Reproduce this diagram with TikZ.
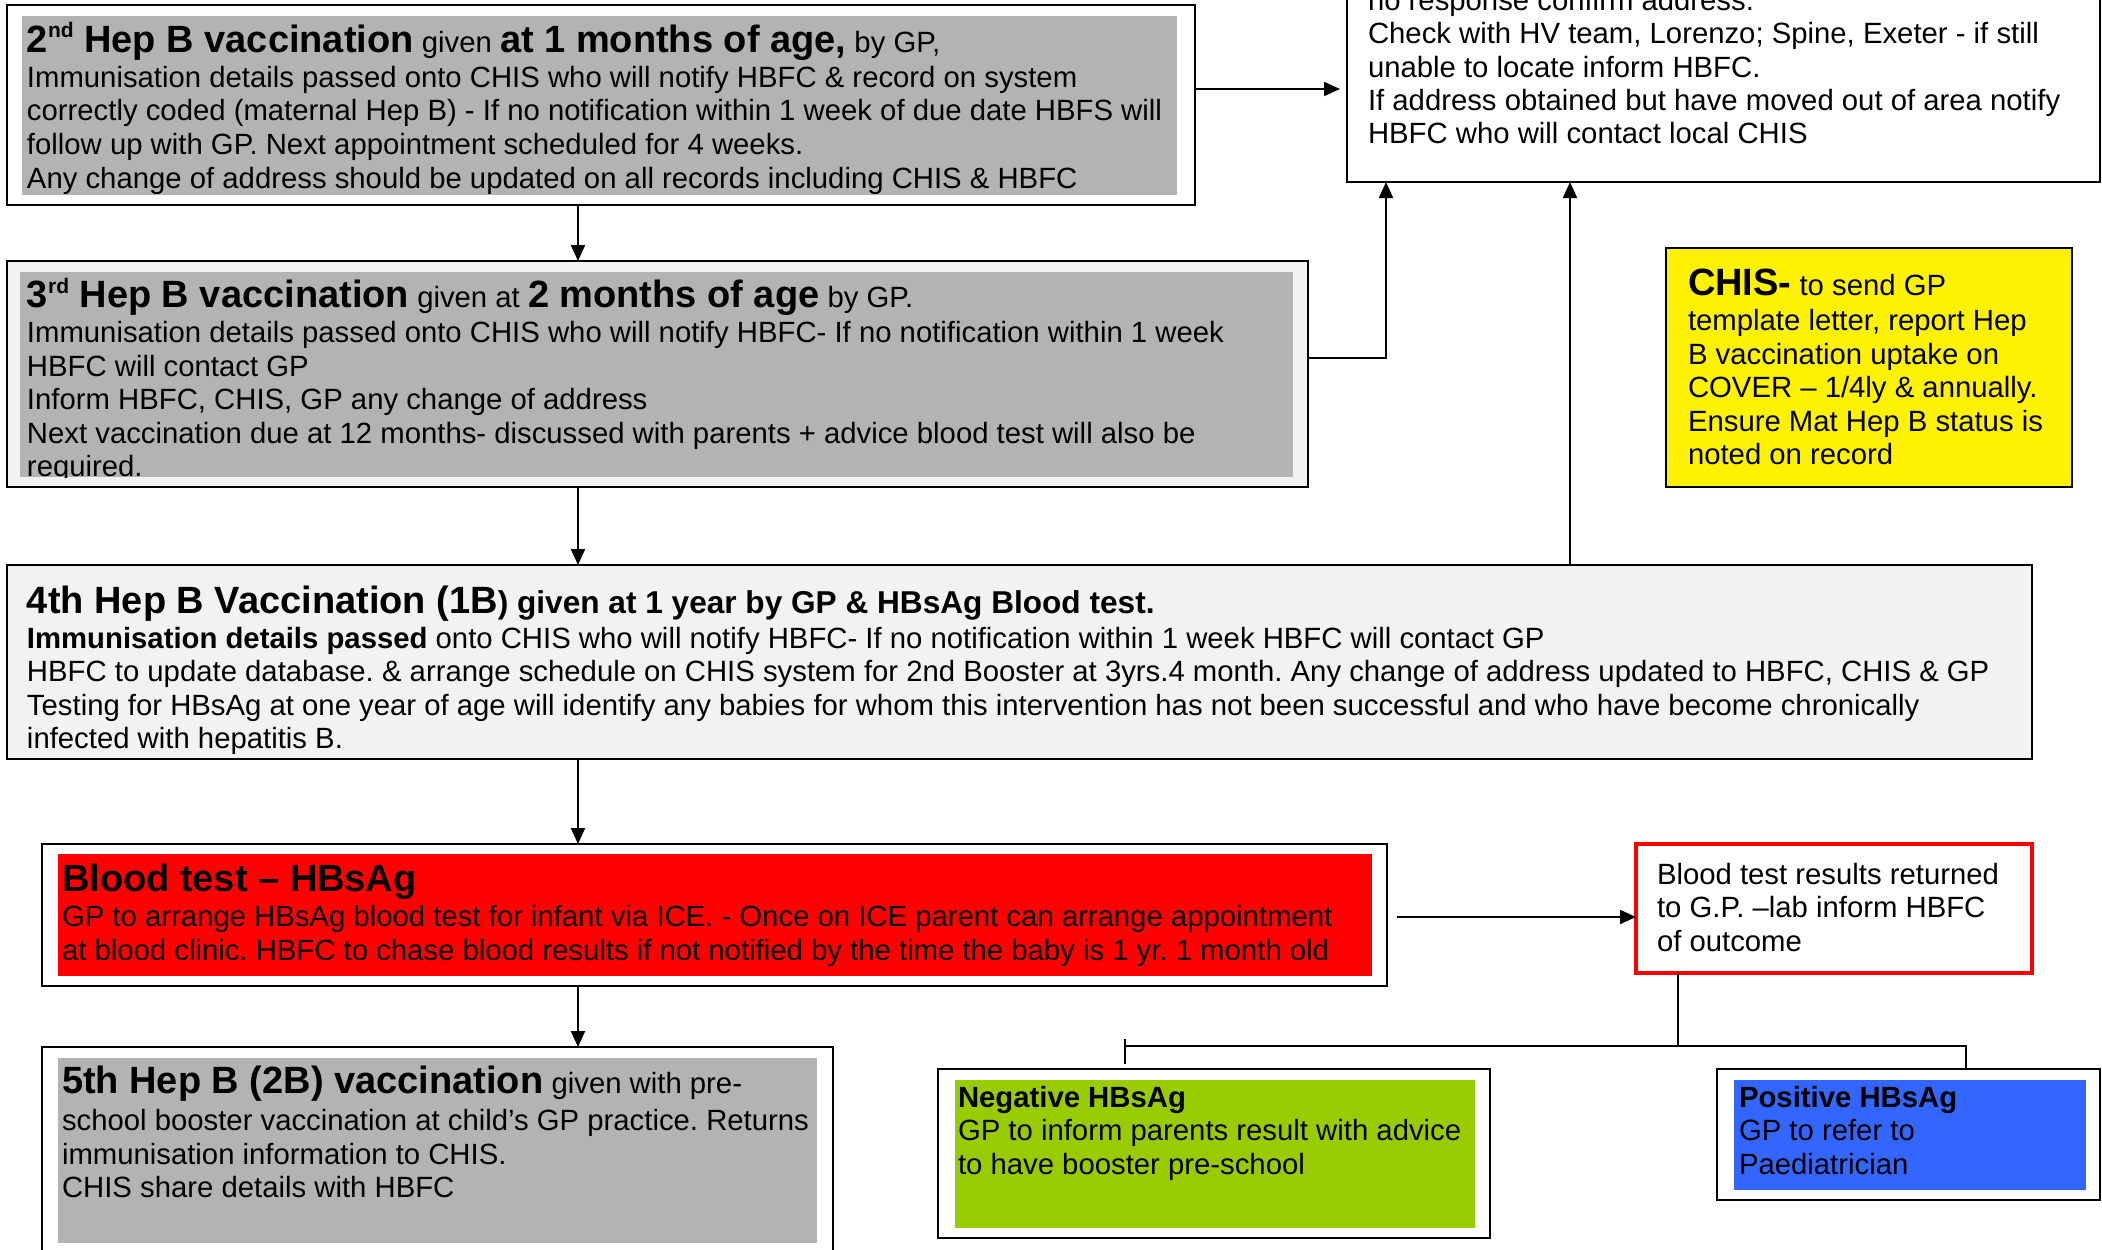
\documentclass[tikz,border=0pt]{standalone}
\usepackage{fontspec}
\setmainfont{Liberation Sans}
\usetikzlibrary{arrows.meta,calc}
\frenchspacing
\definecolor{gr}{HTML}{B3B3B3}
\definecolor{lg}{HTML}{F2F2F2}
\definecolor{grn}{HTML}{99CC00}
\definecolor{blu}{HTML}{3366FF}
\newcommand\bigb{\fontsize{38}{38}\selectfont\bfseries}
\newcommand\midb{\fontsize{31.6}{31.6}\selectfont\bfseries}
\newcommand\supx[1]{\raisebox{14pt}{\fontsize{21}{21}\selectfont\bfseries #1}}
\newcommand\Lines[1]{\begin{tabular}[t]{@{}l@{}}#1\end{tabular}}
\begin{document}
\begin{tikzpicture}[x=1pt,y=-1pt,
  box/.style={draw=black, line width=2.5pt, inner sep=0pt, outer sep=0pt, anchor=north west},
  panel/.style={inner sep=0pt, outer sep=0pt, anchor=north west, draw=none},
  txt/.style={anchor=base west, inner sep=0pt, outer sep=0pt, font=\fontsize{29.3}{33.5}\selectfont},
  arr/.style={line width=2pt, -{Triangle[width=14pt,length=16pt]}},
  ln/.style={line width=2pt}]
\useasboundingbox (0,0) rectangle (2102,1250);
\fill[white] (0,0) rectangle (2102,1250);

% ---- boxes ----
\node[box, fill=white, minimum width=1188pt, minimum height=200pt] (b1) at (7,5) {};
\node[panel, fill=gr, minimum width=1155pt, minimum height=179pt] (b1in) at (22,16) {};
\node[box, fill=white, minimum width=753pt, minimum height=222pt] (b2) at (1347,-40) {};
\node[box, fill=lg, minimum width=1301pt, minimum height=226pt] (b3) at (7,261) {};
\node[panel, fill=gr, minimum width=1273pt, minimum height=205pt] (b3in) at (20,272) {};
\node[box, fill=lg, minimum width=2025pt, minimum height=194pt] (b4) at (7,565) {};
\node[box, fill=yellow, line width=2pt, minimum width=406pt, minimum height=239pt] (ch) at (1666,248) {};
\node[box, fill=white, minimum width=1345pt, minimum height=142pt] (bt) at (42,844) {};
\node[panel, fill=red, minimum width=1314pt, minimum height=122pt] (btin) at (58,854) {};
\node[box, draw=red, line width=4pt, fill=white, minimum width=396pt, minimum height=129pt] (res) at (1636,844) {};
\node[box, fill=white, minimum width=552pt, minimum height=169pt] (neg) at (938,1069) {};
\node[panel, fill=grn, minimum width=520pt, minimum height=148pt] (negin) at (955,1080) {};
\node[box, fill=white, minimum width=383pt, minimum height=131pt] (pos) at (1717,1069) {};
\node[panel, fill=blu, minimum width=352pt, minimum height=110pt] (posin) at (1734,1080) {};
\node[box, fill=white, minimum width=791pt, minimum height=250pt] (b5) at (42,1047) {};
\node[panel, fill=gr, minimum width=759pt, minimum height=185pt] (b5in) at (58,1058) {};

% ---- texts ----
\node[txt] (t1) at (27,52) {\Lines{%
{\bigb 2\supx{nd} Hep B vaccination} given {\bigb at 1 months of age,} by GP,\\[2pt]
Immunisation details passed onto CHIS who will notify HBFC \& record on system\\
correctly coded (maternal Hep B) - If no notification within 1 week of due date HBFS will\\
follow up with GP. Next appointment scheduled for 4 weeks.\\
Any change of address should be updated on all records including CHIS \& HBFC}};

\node[txt] (t2) at (1368,10) {\Lines{%
no response confirm address.\\
Check with HV team, Lorenzo; Spine, Exeter - if still\\
unable to locate inform HBFC.\\
If address obtained but have moved out of area notify\\
HBFC who will contact local CHIS}};

\begin{scope}
\clip (20,272) rectangle (1293,477);
\node[txt] (t3) at (27,307) {\Lines{%
{\bigb 3\supx{rd} Hep B vaccination} given at {\bigb 2 months of age} by GP.\\[2pt]
Immunisation details passed onto CHIS who will notify HBFC- If no notification within 1 week\\
HBFC will contact GP\\
Inform HBFC, CHIS, GP any change of address\\
Next vaccination due at 12 months- discussed with parents + advice blood test will also be\\
required.}};
\end{scope}

\begin{scope}
\clip (8.5,566.5) rectangle (2030.5,757.5);
\node[txt] (t4) at (27,613) {\Lines{%
{\bigb 4th Hep B Vaccination (1B}{\midb) given at 1 year by GP \& HBsAg Blood test.}\\[1.5pt]
{\bfseries Immunisation details passed} onto CHIS who will notify HBFC- If no notification within 1 week HBFC will contact GP\\
HBFC to update database. \& arrange schedule on CHIS system for 2nd Booster at 3yrs.4 month. Any change of address updated to HBFC, CHIS \& GP\\
Testing for HBsAg at one year of age will identify any babies for whom this intervention has not been successful and who have become chronically\\
infected with hepatitis B.}};
\end{scope}

\node[txt] (t5) at (1688,295) {\Lines{%
{\bigb CHIS-} to send GP\\[2pt]
template letter, report Hep\\
B vaccination uptake on\\
COVER – 1/4ly \& annually.\\
Ensure Mat Hep B status is\\
noted on record}};

\node[txt] (t6) at (62,891) {\Lines{%
{\bigb Blood test – HBsAg}\\[2pt]
GP to arrange HBsAg blood test for infant via ICE. - Once on ICE parent can arrange appointment\\
at blood clinic. HBFC to chase blood results if not notified by the time the baby is 1 yr. 1 month old}};

\node[txt] (t7) at (1657,884) {\Lines{%
Blood test results returned\\
to G.P. –lab inform HBFC\\
of outcome}};

\node[txt] (t8) at (958,1107) {\Lines{%
{\bfseries Negative HBsAg}\\
GP to inform parents result with advice\\
to have booster pre-school}};

\node[txt] (t9) at (1739,1107) {\Lines{%
{\bfseries Positive HBsAg}\\
GP to refer to\\
Paediatrician}};

\node[txt] (t10) at (62,1093) {\Lines{%
{\bigb 5th Hep B (2B) vaccination} given with pre-\\[4pt]
school booster vaccination at child’s GP practice. Returns\\
immunisation information to CHIS.\\
CHIS share details with HBFC}};

% ---- connectors ----
\coordinate (trunk) at (578,0);
\coordinate (r1) at (1386,0);
\coordinate (r2) at (1570,0);
\coordinate (sp) at (1678,1046);
\coordinate (spl) at (1125,1046);
\coordinate (spr) at (1966,1046);

\draw[arr] (b1.south -| trunk) -- (b3.north -| trunk);
\draw[arr] (b3.south -| trunk) -- (b4.north -| trunk);
\draw[arr] (b4.south -| trunk) -- (bt.north -| trunk);
\draw[arr] (bt.south -| trunk) -- (b5.north -| trunk);

\draw[arr, shorten >=7pt] (b1.east |- 0,89) -- (b2.west |- 0,89);
\draw[arr] (b3.east |- 0,358) -| (b2.south -| r1);
\draw[arr] (b4.north -| r2) -- (b2.south -| r2);

\draw[arr, shorten <=10pt] (bt.east |- 0,917) -- (res.west |- 0,917);

\draw[ln] (res.south -| sp) -- (sp);
\draw[ln] (spl) -- (spr) -- (pos.north -| spr);
\draw[ln] ($(spl)+(0,-7)$) -- ($(spl)+(0,18)$);
\end{tikzpicture}
\end{document}
